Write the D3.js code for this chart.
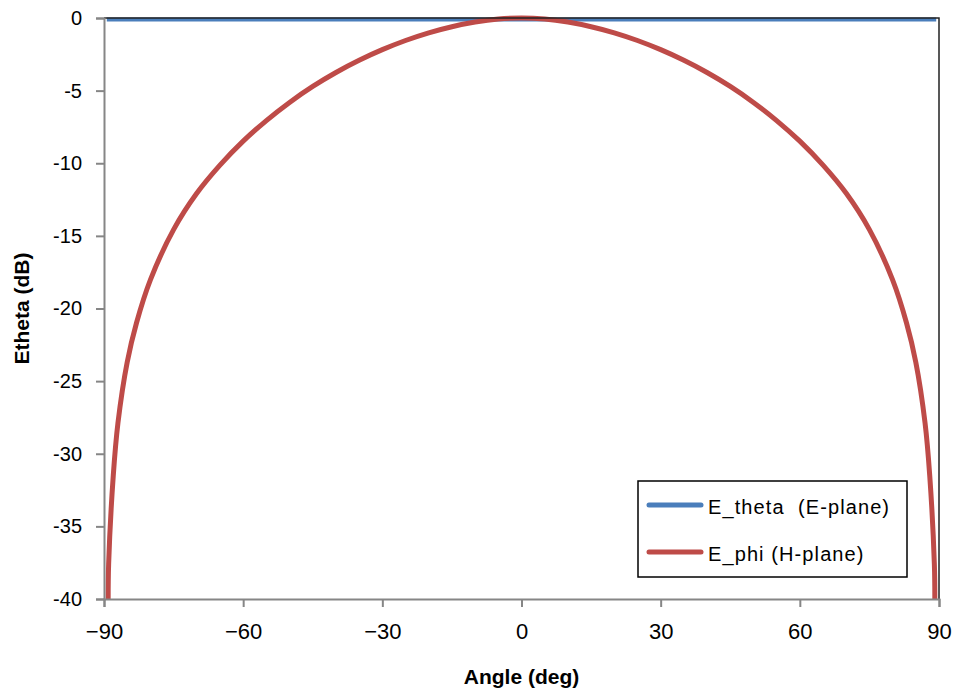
<!DOCTYPE html>
<html>
<head>
<meta charset="utf-8">
<script src="https://cdn.jsdelivr.net/npm/d3@7"></script>
<style>
  body { margin: 0; background: #fff; }
  svg { display: block; }
</style>
</head>
<body>
<div id="vis"></div>
<script>
// data
const angles = [-89.1, -89, -88, -87, -85, -83, -80, -75, -70, -65, -60, -55, -50, -45, -40, -35, -30, -25, -20, -15, -10, -5, 0,
                5, 10, 15, 20, 25, 30, 35, 40, 45, 50, 55, 60, 65, 70, 75, 80, 83, 85, 87, 88, 89, 89.1];
const ePhi = [-40, -37.6, -31.5, -27.9, -23.7, -21.0, -18.03, -14.57, -12.07, -10.13, -8.48, -7.06, -5.81, -4.71, -3.75, -2.91, -2.18, -1.55, -1.02, -0.6, -0.28, -0.07, 0,
              -0.07, -0.28, -0.6, -1.02, -1.55, -2.18, -2.91, -3.75, -4.71, -5.81, -7.06, -8.48, -10.13, -12.07, -14.57, -18.03, -21.0, -23.7, -27.9, -31.5, -37.6, -40];
const thetaAngles = [-89.4, -60, -30, 0, 30, 60, 89.4];
const eTheta = [0, 0, 0, 0, 0, 0, 0];

const xTicks = [-90, -60, -30, 0, 30, 60, 90];
const yTicks = [0, -5, -10, -15, -20, -25, -30, -35, -40];
const seriesNames = ["E_theta  (E-plane)", "E_phi (H-plane)"];
const seriesColors = ["#4a7ebb", "#be4b48"];

const FRAME_WIDTH = 961;
const FRAME_HEIGHT = 697;
const MARGINS = {left: 104, right: 22, top: 18, bottom: 98};
const VIS_WIDTH = FRAME_WIDTH - MARGINS.left - MARGINS.right;
const VIS_HEIGHT = FRAME_HEIGHT - MARGINS.top - MARGINS.bottom;

const svg = d3.select("#vis")
              .append("svg")
              .attr("width", FRAME_WIDTH)
              .attr("height", FRAME_HEIGHT);

const X_SCALE = d3.scaleLinear().domain([-90, 90]).range([0, VIS_WIDTH]);
const Y_SCALE = d3.scaleLinear().domain([-40, 0]).range([VIS_HEIGHT, 0]);

const plot = svg.append("g")
                .attr("transform", "translate(" + MARGINS.left + "," + MARGINS.top + ")");

// series lines
const line = d3.line()
               .x(d => X_SCALE(d[0]))
               .y(d => Y_SCALE(d[1]))
               .curve(d3.curveCatmullRom.alpha(0.5));

plot.append("path")
    .datum(thetaAngles.map((a, i) => [a, eTheta[i]]))
    .attr("d", line)
    .attr("fill", "none")
    .attr("stroke", seriesColors[0])
    .attr("stroke-width", 4)
    .attr("transform", "translate(0,1.5)");

plot.append("path")
    .datum(angles.map((a, i) => [a, ePhi[i]]))
    .attr("d", line)
    .attr("fill", "none")
    .attr("stroke", seriesColors[1])
    .attr("stroke-width", 5);

// top and right border of the plot area
plot.append("path")
    .attr("d", "M0," + Y_SCALE(0) + "H" + X_SCALE(90) + "V" + Y_SCALE(-40))
    .attr("fill", "none")
    .attr("stroke", "#222")
    .attr("stroke-width", 1.5);

// y axis
const yAxis = plot.append("g")
    .call(d3.axisLeft(Y_SCALE).tickValues(yTicks).tickSize(8).tickPadding(14)
            .tickFormat(d => d === 0 ? "0" : "-" + Math.abs(d)));
yAxis.selectAll("path, line").attr("stroke", "#868686").attr("stroke-width", 2);
yAxis.selectAll("text")
     .attr("font-family", "Liberation Sans, Arial, sans-serif")
     .attr("font-size", "20px")
     .attr("fill", "#000");

// x axis
const xAxis = plot.append("g")
    .attr("transform", "translate(0," + VIS_HEIGHT + ")")
    .call(d3.axisBottom(X_SCALE).tickValues(xTicks).tickSize(8).tickPadding(16)
            .tickFormat(d => d < 0 ? "\u2212" + Math.abs(d) : String(d)));
xAxis.selectAll("path, line").attr("stroke", "#868686").attr("stroke-width", 2);
xAxis.selectAll("text")
     .attr("font-family", "Liberation Sans, Arial, sans-serif")
     .attr("font-size", "22px")
     .attr("fill", "#000");

// axis titles
svg.append("text")
   .attr("x", MARGINS.left + VIS_WIDTH / 2)
   .attr("y", 684)
   .attr("text-anchor", "middle")
   .attr("font-family", "Liberation Sans, Arial, sans-serif")
   .attr("font-weight", "bold")
   .attr("font-size", "21px")
   .text("Angle (deg)");

svg.append("text")
   .attr("transform", "translate(29," + (MARGINS.top + VIS_HEIGHT / 2) + ") rotate(-90)")
   .attr("text-anchor", "middle")
   .attr("font-family", "Liberation Sans, Arial, sans-serif")
   .attr("font-weight", "bold")
   .attr("font-size", "21px")
   .text("Etheta (dB)");

// legend
const legend = svg.append("g").attr("transform", "translate(638,481)");
legend.append("rect")
      .attr("width", 269)
      .attr("height", 96)
      .attr("fill", "#fff")
      .attr("stroke", "#000")
      .attr("stroke-width", 1.5);

const items = legend.selectAll(".item")
    .data(seriesNames)
    .enter()
    .append("g")
    .attr("class", "item")
    .attr("transform", (d, i) => "translate(0," + (24 + i * 47) + ")");

items.append("line")
     .attr("x1", 11).attr("x2", 63)
     .attr("stroke", (d, i) => seriesColors[i])
     .attr("stroke-width", 5)
     .attr("stroke-linecap", "round");

items.append("text")
     .attr("x", 70)
     .attr("y", 9)
     .attr("font-family", "Liberation Sans, Arial, sans-serif")
     .attr("font-size", "20px")
     .attr("letter-spacing", "1.1px")
     .attr("xml:space", "preserve")
     .style("white-space", "pre")
     .text(d => d);
</script>
</body>
</html>
